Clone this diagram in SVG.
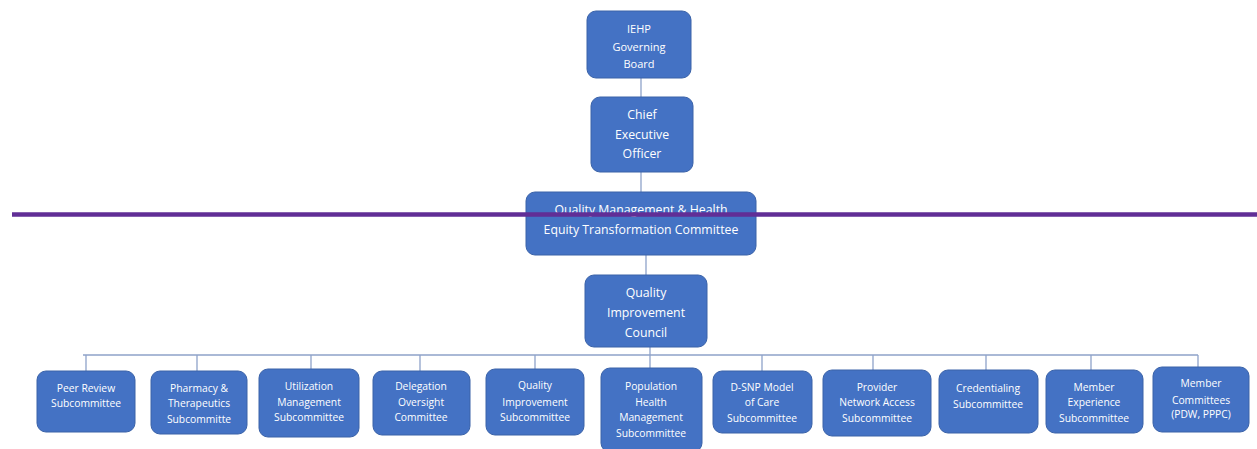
<svg xmlns="http://www.w3.org/2000/svg" width="1257" height="449" viewBox="0 0 1257 449">
<style>
.box{fill:#4472c4;stroke:#3a62a8;stroke-width:1}
.t{fill:#ffffff;font-family:"Open Sans","Noto Sans",sans-serif;text-anchor:middle}
.s{font-size:10.3px}
.m{font-size:12.3px}
.c{fill:none;stroke:#8ea2c9;stroke-width:1.3}
</style>
<rect width="1257" height="449" fill="#ffffff"/>
<g id="connectors">
<line class="c" x1="641" y1="78" x2="641" y2="97"/>
<line class="c" x1="641" y1="172" x2="641" y2="192"/>
<line class="c" x1="646" y1="255" x2="646" y2="275"/>
<line class="c" x1="650" y1="347" x2="650" y2="368"/>
<line class="c" x1="83" y1="355" x2="1198" y2="355"/>
<line class="c" x1="86" y1="355" x2="86" y2="371"/>
<line class="c" x1="197" y1="355" x2="197" y2="371"/>
<line class="c" x1="311" y1="355" x2="311" y2="369"/>
<line class="c" x1="420" y1="355" x2="420" y2="371"/>
<line class="c" x1="535" y1="355" x2="535" y2="369"/>
<line class="c" x1="762" y1="355" x2="762" y2="371"/>
<line class="c" x1="873" y1="355" x2="873" y2="370"/>
<line class="c" x1="986" y1="355" x2="986" y2="370"/>
<line class="c" x1="1091" y1="355" x2="1091" y2="370"/>
<line class="c" x1="1198" y1="355" x2="1198" y2="367"/>
</g>
<g id="n-board">
<rect class="box" x="587" y="11" width="104" height="67" rx="9"/>
<text class="t" font-size="11" x="639" y="33">IEHP</text>
<text class="t" font-size="11" x="639" y="51">Governing</text>
<text class="t" font-size="11" x="639" y="68">Board</text>
</g>
<g id="n-ceo">
<rect class="box" x="591" y="97" width="102" height="75" rx="9"/>
<text class="t m" x="642" y="119">Chief</text>
<text class="t m" x="642" y="139">Executive</text>
<text class="t m" x="642" y="158">Officer</text>
</g>
<g id="n-qmhet">
<rect class="box" x="526" y="192" width="230" height="63" rx="9"/>
<text class="t m" x="641" y="214">Quality Management &amp; Health</text>
<text class="t m" x="641" y="234">Equity Transformation Committee</text>
</g>
<g id="n-qic">
<rect class="box" x="585" y="275" width="122" height="72" rx="9"/>
<text class="t m" x="646" y="297">Quality</text>
<text class="t m" x="646" y="317">Improvement</text>
<text class="t m" x="646" y="337">Council</text>
</g>
<g id="n-peer">
<rect class="box" x="37" y="371" width="98" height="61" rx="9"/>
<text class="t s" x="86" y="392">Peer Review</text>
<text class="t s" x="86" y="407">Subcommittee</text>
</g>
<g id="n-pharm">
<rect class="box" x="151" y="371" width="96" height="63" rx="9"/>
<text class="t s" x="199" y="392">Pharmacy &amp;</text>
<text class="t s" x="199" y="407">Therapeutics</text>
<text class="t s" x="199" y="423">Subcommitte</text>
</g>
<g id="n-um">
<rect class="box" x="259" y="369" width="100" height="68" rx="9"/>
<text class="t s" x="309" y="390">Utilization</text>
<text class="t s" x="309" y="406">Management</text>
<text class="t s" x="309" y="421">Subcommittee</text>
</g>
<g id="n-deleg">
<rect class="box" x="373" y="371" width="97" height="64" rx="9"/>
<text class="t s" x="421" y="390">Delegation</text>
<text class="t s" x="421" y="406">Oversight</text>
<text class="t s" x="421" y="421">Committee</text>
</g>
<g id="n-qi">
<rect class="box" x="486" y="369" width="98" height="66" rx="9"/>
<text class="t s" x="535" y="389">Quality</text>
<text class="t s" x="535" y="406">Improvement</text>
<text class="t s" x="535" y="421">Subcommittee</text>
</g>
<g id="n-phm">
<rect class="box" x="601" y="368" width="101" height="84" rx="9"/>
<text class="t s" x="651" y="390">Population</text>
<text class="t s" x="651" y="406">Health</text>
<text class="t s" x="651" y="421">Management</text>
<text class="t s" x="651" y="437">Subcommittee</text>
</g>
<g id="n-dsnp">
<rect class="box" x="713" y="371" width="99" height="62" rx="9"/>
<text class="t s" x="762" y="391">D-SNP Model</text>
<text class="t s" x="762" y="406">of Care</text>
<text class="t s" x="762" y="422">Subcommittee</text>
</g>
<g id="n-pna">
<rect class="box" x="823" y="370" width="108" height="66" rx="9"/>
<text class="t s" x="877" y="391">Provider</text>
<text class="t s" x="877" y="406">Network Access</text>
<text class="t s" x="877" y="422">Subcommittee</text>
</g>
<g id="n-cred">
<rect class="box" x="939" y="370" width="99" height="63" rx="9"/>
<text class="t s" x="988" y="392">Credentialing</text>
<text class="t s" x="988" y="408">Subcommittee</text>
</g>
<g id="n-mexp">
<rect class="box" x="1046" y="370" width="97" height="63" rx="9"/>
<text class="t s" x="1094" y="391">Member</text>
<text class="t s" x="1094" y="406">Experience</text>
<text class="t s" x="1094" y="422">Subcommittee</text>
</g>
<g id="n-mcomm">
<rect class="box" x="1153" y="367" width="96" height="65" rx="9"/>
<text class="t s" x="1201" y="387">Member</text>
<text class="t s" x="1201" y="404">Committees</text>
<text class="t s" x="1201" y="418">(PDW, PPPC)</text>
</g>
<line id="divider" x1="12" y1="214.5" x2="1257" y2="214.5" stroke="#612e96" stroke-width="4.5"/>
</svg>
